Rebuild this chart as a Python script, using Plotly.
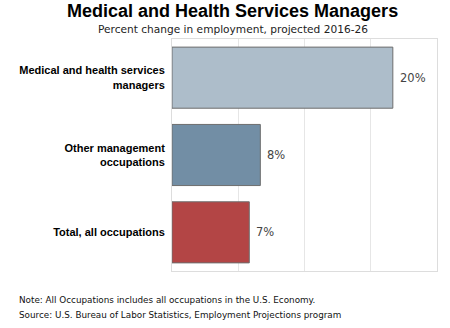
import plotly.graph_objects as go

categories = ["Medical and health services<br>managers", "Other management<br>occupations", "Total, all occupations"]
values = [20, 8, 7]
value_labels = ["20%", "8%", "7%"]
colors = ["#adbdca", "#728ea5", "#b34545"]
note_lines = ["Note: All Occupations includes all occupations in the U.S. Economy.",
              "Source: U.S. Bureau of Labor Statistics, Employment Projections program"]

fig = go.Figure()
fig.add_trace(go.Bar(
    x=values, y=categories, orientation="h",
    marker=dict(color=colors, line=dict(color="#6e6e6e", width=1)),
    width=0.79, hoverinfo="skip",
))
for v, lab, c in zip(values, value_labels, categories):
    fig.add_annotation(x=v, y=c, text=lab, showarrow=False, xanchor="left", xshift=5,
                       font=dict(family="DejaVu Sans", size=11.5, color="#444444"))

fig.add_annotation(xref="paper", yref="paper", x=0.23, y=1.0, yshift=40, xanchor="center", yanchor="top",
                   text="<b>Medical and Health Services Managers</b>", showarrow=False,
                   font=dict(family="Liberation Sans", size=18, color="#000000"))
fig.add_annotation(xref="paper", yref="paper", x=0.23, y=1.0, yshift=18, xanchor="center", yanchor="top",
                   text="Percent change in employment, projected 2016-26", showarrow=False,
                   font=dict(family="DejaVu Sans", size=10.6, color="#222222"))
for i, line in enumerate(note_lines):
    fig.add_annotation(xref="paper", yref="paper", x=-0.585, y=0, yshift=-22 - 15 * i,
                       xanchor="left", yanchor="top", text=line, showarrow=False, align="left",
                       font=dict(family="DejaVu Sans", size=8.8, color="#111111"))

fig.update_layout(
    width=450, height=328,
    margin=dict(l=172, r=13, t=39, b=57),
    paper_bgcolor="white", plot_bgcolor="white",
    showlegend=False,
    xaxis=dict(range=[0, 24], dtick=6, showticklabels=False, showgrid=True, gridcolor="#e6e6e6",
               zeroline=False, showline=True, linecolor="#dddddd", mirror=True, linewidth=1),
    yaxis=dict(autorange="reversed", showgrid=False, zeroline=False, showline=True, linecolor="#dddddd",
               mirror=True, linewidth=1, ticklabelstandoff=4,
               tickfont=dict(family="Liberation Sans", size=11, color="#000000")),
)
fig.update_yaxes(tickfont_weight="bold")
fig.write_html("out.html")
